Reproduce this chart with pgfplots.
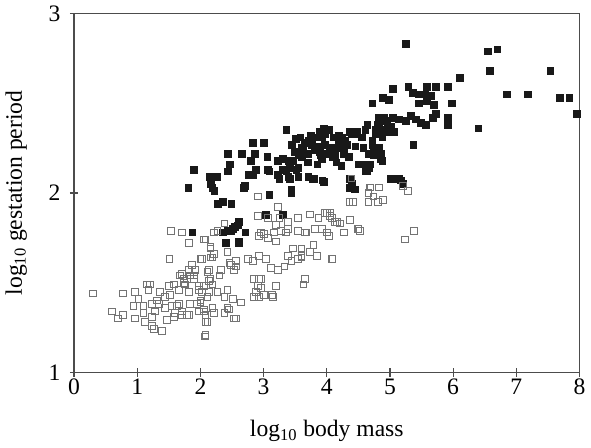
\documentclass[border=0pt]{standalone}
\usepackage{fontspec}
\setmainfont{Liberation Serif}
\usepackage{pgfplots}
\pgfplotsset{compat=1.18}
\begin{document}
\begin{tikzpicture}
\begin{axis}[
    scale only axis,
    width=300pt, height=213pt,
    xmin=0, xmax=8, ymin=1, ymax=3,
    enlargelimits=false,
    xtick={0,1,...,8}, ytick={1,2,3},
    xtick pos=left, ytick pos=left,
    tick align=center,
    major tick length=5pt,
    axis line style={black!70, line width=0.7pt},
    every tick/.style={black!70, line width=0.7pt},
    tick label style={font=\fontsize{14}{16}\selectfont},
    label style={font=\fontsize{14}{16}\selectfont},
    yticklabel style={xshift=-2pt},
    xticklabel style={yshift=2pt},
    /pgf/number format/assume math mode=true,
    xlabel={log\textsubscript{10} body mass},
    ylabel={log\textsubscript{10} gestation period},
    xlabel style={yshift=-8pt},
    ylabel style={yshift=6pt},
]
% eutherians with precocial young (filled)
\addplot[only marks, mark=square*, mark size=2pt, black!90, mark options={fill=black!90}] coordinates {
(6.55,2.79)(6.70,2.80)(6.58,2.68)(6.11,2.64)(7.54,2.68)(6.85,2.55)(7.18,2.55)(7.69,2.53)(7.84,2.53)(7.96,2.44)(6.40,2.36)
(5.25,2.83)(5.29,2.59)(5.58,2.59)(5.73,2.59)(5.92,2.59)(5.04,2.58)(5.36,2.56)(5.46,2.55)(5.56,2.55)(5.65,2.54)(5.46,2.50)(5.58,2.51)(5.70,2.49)(5.98,2.50)(4.89,2.53)(4.98,2.52)(4.72,2.50)
(5.04,2.42)(5.14,2.41)(5.25,2.40)(5.33,2.43)(5.41,2.41)(5.49,2.39)(5.57,2.38)(5.68,2.42)(5.73,2.44)(5.92,2.42)(5.92,2.38)
(4.82,2.42)(4.93,2.40)(4.80,2.38)(4.85,2.35)(4.77,2.33)(4.88,2.31)(4.72,2.29)(4.74,2.25)(4.82,2.24)(4.85,2.19)
(4.64,2.38)(4.61,2.35)(4.56,2.31)(5.37,2.27)(4.37,2.34)(4.48,2.34)(4.24,2.31)(4.29,2.29)(4.19,2.27)(4.27,2.26)
(3.95,2.36)(4.03,2.35)(3.97,2.33)(3.92,2.31)(3.90,2.21)(4.00,2.22)(4.10,2.20)(4.58,2.25)
(4.61,2.16)(4.50,2.16)(4.69,2.16)(4.66,2.14)(4.64,2.12)(4.23,2.15)(3.93,2.07)(4.37,2.08)(4.40,2.05)(5.03,2.08)(5.17,2.07)(5.20,2.05)
(3.92,2.34)(4.11,2.31)(4.19,2.32)(4.32,2.27)(4.40,2.33)(4.48,2.33)(3.89,2.23)(3.97,2.22)(4.05,2.23)(4.13,2.21)(3.92,2.19)(4.08,2.25)(4.19,2.25)(4.24,2.27)(4.27,2.22)
(4.72,2.27)(4.66,2.22)(4.74,2.21)(4.82,2.25)(4.85,2.22)(4.88,2.18)(4.82,2.39)(4.90,2.42)(4.96,2.38)(4.77,2.35)(4.93,2.34)(5.01,2.37)(5.06,2.34)
(3.36,2.35)(3.51,2.30)(2.83,2.28)(3.00,2.28)(2.43,2.22)(2.65,2.22)(2.86,2.22)(3.06,2.20)(2.80,2.18)(2.46,2.16)(1.90,2.13)(2.43,2.12)(2.77,2.10)(2.88,2.13)(2.83,2.10)(3.07,2.13)
(2.14,2.09)(2.26,2.09)(1.81,2.03)(2.16,2.05)(2.19,2.03)(2.22,2.01)(2.70,2.04)(3.09,1.99)(3.44,2.00)(3.25,2.08)(3.39,2.09)(3.55,2.09)(3.71,2.09)(3.79,2.08)
(2.27,1.94)(2.35,1.95)(2.49,1.94)(3.04,1.88)(3.31,1.88)(1.87,1.78)
(3.81,2.31)(3.89,2.34)(3.76,2.27)(3.87,2.26)(3.97,2.27)(3.81,2.24)(3.63,2.24)(3.71,2.22)(3.60,2.20)(3.49,2.23)(3.39,2.18)(3.47,2.18)(3.31,2.19)(3.23,2.18)
(3.41,2.14)(3.52,2.13)(3.31,2.13)(3.23,2.10)(3.36,2.12)(3.55,2.14)(3.77,2.08)
(3.65,2.28)(3.70,2.17)(3.85,2.16)(3.58,2.31)(3.45,2.27)(3.75,2.32)(4.15,2.17)(4.35,2.20)(4.45,2.26)(3.55,2.21)(3.60,2.25)(3.71,2.29)(3.95,2.06)(3.41,2.08)(3.44,2.02)(2.69,2.03)(3.09,2.12)
(2.35,1.78)(2.43,1.79)(2.51,1.80)(2.59,1.82)(2.61,1.84)(2.40,1.72)(2.61,1.73)(2.61,1.72)(2.71,1.78)(2.48,1.79)(2.55,1.81)
(4.37,2.03)(4.44,2.02)(4.61,2.12)(5.01,2.08)(5.15,2.08)
};
% eutherians with altricial young (open)
\addplot[only marks, mark=square, mark size=2pt, black!55, mark options={line width=0.6pt}] coordinates {
(0.30,1.44)(0.60,1.34)(0.70,1.30)(0.78,1.32)(0.77,1.44)(0.94,1.37)(0.96,1.30)(0.96,1.45)(1.02,1.41)(1.10,1.37)(1.10,1.33)(1.12,1.28)(1.18,1.46)(1.20,1.49)
(1.15,1.49)(1.23,1.38)(1.28,1.34)(1.23,1.26)(1.26,1.24)(1.23,1.31)(1.39,1.23)(1.34,1.38)(1.44,1.36)(1.47,1.29)(1.36,1.45)(1.50,1.48)(1.58,1.49)(1.52,1.43)
(1.55,1.37)(1.60,1.33)(1.66,1.38)(1.71,1.34)(1.79,1.32)(1.84,1.38)(1.95,1.38)(1.98,1.34)(2.06,1.35)(2.08,1.28)(2.07,1.20)(2.19,1.36)(1.66,1.46)(1.76,1.49)
(1.82,1.45)(1.98,1.48)(2.14,1.51)(2.14,1.45)(1.44,1.42)(1.31,1.40)(1.63,1.37)(1.58,1.31)(1.71,1.32)(1.82,1.32)(1.68,1.54)(1.74,1.50)(1.79,1.52)(1.90,1.54)(1.98,1.46)
(1.53,1.79)(1.71,1.78)(1.82,1.72)(2.08,1.74)(1.51,1.63)(2.00,1.63)(2.16,1.69)(2.16,1.64)(1.87,1.60)(1.92,1.57)(1.82,1.57)(1.71,1.55)(1.84,1.54)(1.74,1.52)(1.90,1.52)
(2.00,1.39)(2.06,1.34)(2.11,1.28)(2.22,1.33)(2.38,1.33)(2.43,1.36)(2.53,1.30)(2.64,1.39)(2.51,1.41)(2.38,1.42)(2.27,1.45)(2.16,1.52)(2.32,1.57)(2.46,1.61)
(2.56,1.62)(2.11,1.56)(2.03,1.63)(2.19,1.64)(2.22,1.66)(2.16,1.70)(2.06,1.74)(2.22,1.78)(2.27,1.79)(2.43,1.67)(2.48,1.60)(2.56,1.59)(2.53,1.57)(2.30,1.54)
(2.14,1.57)(2.19,1.49)(2.06,1.48)(2.03,1.45)(2.11,1.42)(2.43,1.46)(2.45,1.35)(2.56,1.30)(2.08,1.32)(2.08,1.21)(2.00,1.40)(2.38,1.83)
(2.91,1.98)(3.23,1.92)(2.91,1.87)(3.07,1.86)(3.25,1.86)(3.20,1.82)(3.39,1.84)(3.55,1.86)(3.73,1.88)(3.87,1.86)(4.00,1.89)(4.05,1.87)(4.13,1.84)(3.92,1.80)
(4.00,1.78)(3.65,1.78)(3.55,1.79)(3.36,1.78)(3.17,1.78)(2.96,1.78)(2.93,1.76)(3.07,1.75)(3.20,1.73)(3.28,1.79)(3.39,1.80)(3.68,1.78)(3.81,1.80)(3.01,1.77)(3.97,1.89)
(2.75,1.63)(2.83,1.62)(2.93,1.65)(3.04,1.63)(3.12,1.58)(3.23,1.57)(3.33,1.59)(3.39,1.65)(3.47,1.69)(3.55,1.63)(3.60,1.65)(3.73,1.67)(3.79,1.71)(3.84,1.65)
(4.08,1.63)(3.60,1.69)(3.60,1.64)(3.44,1.62)
(2.93,1.52)(2.91,1.48)(2.88,1.45)(2.85,1.42)(2.93,1.42)(3.01,1.43)(2.96,1.47)(3.20,1.48)(3.15,1.42)(3.65,1.52)(3.63,1.49)(2.96,1.52)(2.85,1.52)(3.13,1.43)
(4.39,2.08)(4.69,2.03)(4.83,2.03)(4.66,2.00)(4.74,1.98)(4.66,1.95)(4.81,1.95)(4.89,1.96)(4.36,1.95)(4.42,1.95)(5.21,2.04)(5.28,2.01)
(4.05,1.89)(4.08,1.86)(4.16,1.84)(4.21,1.83)(4.37,1.85)(4.50,1.80)(4.53,1.79)(4.27,1.78)(5.38,1.79)(5.24,1.74)(4.09,1.63)(4.03,1.76)
};
\end{axis}
\end{tikzpicture}
\end{document}
